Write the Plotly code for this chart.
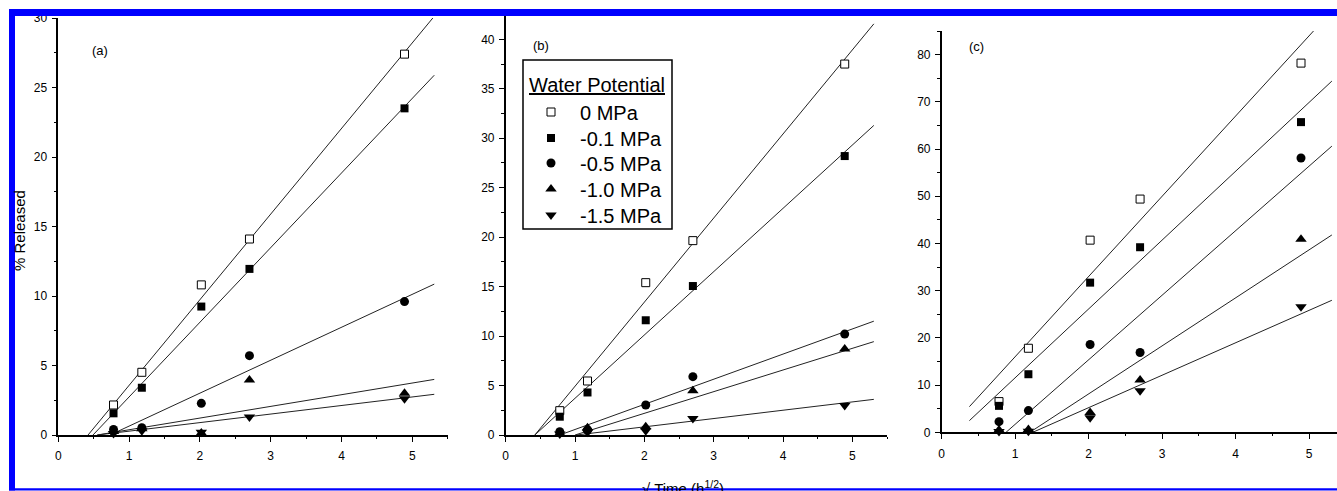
import plotly.graph_objects as go

W, H = 1337, 491

# ---------------- data ----------------
sqrt_time = [0.78, 1.18, 2.02, 2.70, 4.89]
series_names = ["0 MPa", "-0.1 MPa", "-0.5 MPa", "-1.0 MPa", "-1.5 MPa"]
tick_x = [0, 1, 2, 3, 4, 5]

# panel (a)
a_0 = [2.16, 4.51, 10.8, 14.1, 27.4]
a_01 = [1.56, 3.4, 9.24, 11.95, 23.5]
a_05 = [0.4, 0.53, 2.28, 5.71, 9.6]
a_10 = [0.25, 0.45, 0.15, 3.96, 3.0]
a_15 = [0.1, 0.3, 0.2, 1.3, 2.6]
a_fit_x0 = [0.42, 0.49, 0.73, 0.55, 0.55]
a_fit_y0 = [0, 0, 0, 0, 0]
a_fit_slope = [6.16, 5.37, 2.37, 0.84, 0.615]

# panel (b)
b_0 = [2.46, 5.46, 15.4, 19.65, 37.5]
b_01 = [1.85, 4.3, 11.6, 15.06, 28.2]
b_05 = [0.34, 0.5, 3.03, 5.9, 10.2]
b_10 = [0.17, 0.74, 0.84, 4.48, 8.7]
b_15 = [0.1, 0.27, 0.44, 1.68, 2.97]
b_fit_x0 = [0.42, 0.42, 0.78, 1.0, 1.02]
b_fit_y0 = [0, 0, 0, 0, 0]
b_fit_slope = [8.5, 6.4, 2.54, 2.19, 0.84]

# panel (c)
c_0 = [6.5, 17.8, 40.7, 49.4, 78.2]
c_01 = [5.6, 12.3, 31.7, 39.2, 65.7]
c_05 = [2.26, 4.6, 18.6, 16.9, 58.1]
c_10 = [0.5, 0.6, 4.2, 11.1, 40.9]
c_15 = [0.15, 0.2, 3.1, 8.8, 26.6]
c_fit_x0 = [0.377, 0.377, 0.876, 1.2, 1.24]
c_fit_y0 = [5.43, 2.47, 0, 0, 0]
c_fit_slope = [16.99, 14.58, 13.67, 10.17, 6.87]

fit_x_end = 5.31

# ---------------- style ----------------
FONT = "Liberation Sans, Arial, sans-serif"
marker_styles = [
    dict(symbol="square", size=8, color="white", line=dict(color="black", width=1)),
    dict(symbol="square", size=8, color="black", line=dict(color="black", width=0)),
    dict(symbol="circle", size=9, color="black", line=dict(color="black", width=0)),
    dict(symbol="triangle-up", size=10, color="black", line=dict(color="black", width=0)),
    dict(symbol="triangle-down", size=10, color="black", line=dict(color="black", width=0)),
]
legend_ids = ["legend", "legend2", "legend3", "legend4", "legend5"]
legend_row_y = [112, 138, 163, 189, 215]


def px(x):
    return x / W


def py(y):
    return 1 - y / H


panels = [
    dict(series=[a_0, a_01, a_05, a_10, a_15], fx0=a_fit_x0, fy0=a_fit_y0, fs=a_fit_slope,
         xd=(58.3, 447.7), yd=(435.0, 18.0), xr=[0, 5.5], yr=[0, 30], dy=5, mdy=2.5),
    dict(series=[b_0, b_01, b_05, b_10, b_15], fx0=b_fit_x0, fy0=b_fit_y0, fs=b_fit_slope,
         xd=(505.7, 887.0), yd=(435.0, 15.0), xr=[0, 5.5], yr=[0, 42.46], dy=5, mdy=2.5),
    dict(series=[c_0, c_01, c_05, c_10, c_15], fx0=c_fit_x0, fy0=c_fit_y0, fs=c_fit_slope,
         xd=(941.7, 1337.0), yd=(432.3, 31.0), xr=[0, 5.38], yr=[0, 85], dy=10, mdy=5),
]

fig = go.Figure()
layout_axes = {}

for i, p in enumerate(panels):
    n = "" if i == 0 else str(i + 1)
    xa, ya = "x" + n, "y" + n
    # fit lines
    for k in range(5):
        x0 = p["fx0"][k]
        y0 = p["fy0"][k]
        s = p["fs"][k]
        fig.add_trace(go.Scatter(
            x=[x0, fit_x_end], y=[y0, y0 + s * (fit_x_end - x0)],
            mode="lines", line=dict(color="#222222", width=1),
            xaxis=xa, yaxis=ya, showlegend=False, hoverinfo="skip"))
    # markers
    for k in range(5):
        fig.add_trace(go.Scatter(
            x=sqrt_time, y=p["series"][k], mode="markers",
            marker=marker_styles[k], name=series_names[k],
            xaxis=xa, yaxis=ya, cliponaxis=False,
            legend=legend_ids[k], showlegend=(i == 1)))

    common = dict(showline=True, linecolor="black", showgrid=False, zeroline=False,
                  automargin=False,
                  ticks="outside", ticklen=5, tickwidth=1, tickcolor="black",
                  tickfont=dict(family=FONT, size=12, color="black"))
    layout_axes["xaxis" + n] = dict(
        common, domain=[px(p["xd"][0]), px(p["xd"][1])], range=p["xr"],
        anchor=ya, tickvals=tick_x, linewidth=2, ticklabelstandoff=4,
        minor=dict(dtick=0.5, tick0=0, ticks="outside", ticklen=2, tickcolor="black"))
    layout_axes["yaxis" + n] = dict(
        common, domain=[py(p["yd"][0]), py(p["yd"][1])], range=p["yr"],
        anchor=xa, dtick=p["dy"], tick0=0, linewidth=1.5, ticklabelstandoff=2,
        minor=dict(dtick=p["mdy"], tick0=0, ticks="outside", ticklen=3, tickcolor="black"))

blue = "#0000ff"
shapes = [
    dict(type="rect", xref="paper", yref="paper", x0=px(9), x1=1, y0=py(16), y1=py(9),
         fillcolor=blue, line=dict(width=0), layer="above"),
    dict(type="rect", xref="paper", yref="paper", x0=px(9), x1=px(15), y0=py(490.5), y1=py(9),
         fillcolor=blue, line=dict(width=0), layer="above"),
    dict(type="rect", xref="paper", yref="paper", x0=px(9), x1=1, y0=py(490.5), y1=py(488.3),
         fillcolor=blue, line=dict(width=0), layer="above"),
    # legend frame
    dict(type="rect", xref="paper", yref="paper", x0=px(523), x1=px(672), y0=py(229), y1=py(60),
         fillcolor="white", line=dict(color="black", width=1.5), layer="above"),
]


def ann(text, x, y, size, **kw):
    d = dict(text=text, x=px(x), y=py(y), xref="paper", yref="paper", showarrow=False,
             xanchor="center", yanchor="middle",
             font=dict(family=FONT, size=size, color="black"))
    d.update(kw)
    return d


annotations = [
    ann("(a)", 100, 50, 13),
    ann("(b)", 541, 45, 13),
    ann("(c)", 976, 47, 13),
    ann("% Released", 19, 231, 15, textangle=-90),
    ann("√ Time (h<sup>1/2</sup>)", 683, 476, 15, yanchor="top"),
    ann("<u>Water Potential</u>", 527, 85, 20, xanchor="left"),
]

legends = {}
for k, lid in enumerate(legend_ids):
    legends[lid] = dict(x=px(522), y=py(legend_row_y[k]), xanchor="left", yanchor="middle",
                        bgcolor="rgba(0,0,0,0)", borderwidth=0, itemwidth=48,
                        font=dict(family=FONT, size=20, color="black"))

fig.update_layout(
    template="none",
    width=W, height=H, margin=dict(l=0, r=0, t=0, b=0, pad=0, autoexpand=False),
    paper_bgcolor="white", plot_bgcolor="white",
    font=dict(family=FONT, color="black"),
    showlegend=True,
    shapes=shapes, annotations=annotations,
    **legends,
    **layout_axes,
)

fig.write_html("out.html", post_script="document.body.style.margin='0';")
